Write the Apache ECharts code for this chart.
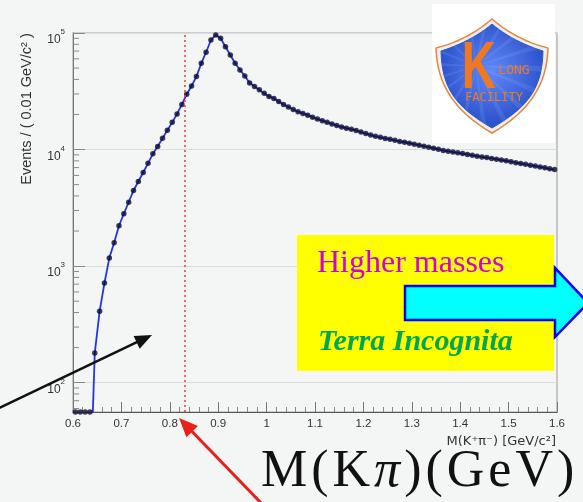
<!DOCTYPE html>
<html><head><meta charset="utf-8">
<script src="https://cdn.jsdelivr.net/npm/echarts@6/dist/echarts.min.js"></script>
<style>html,body{margin:0;padding:0;background:#f4f5f5}#c{width:583px;height:502px}</style>
</head><body><div id="c"></div>
<script>
// ---- data ----
const binCenters = [
 0.605,0.615,0.625,0.635,0.645,0.655,0.665,0.675,0.685,0.695,
 0.705,0.715,0.725,0.735,0.745,0.755,0.765,0.775,0.785,0.795,
 0.805,0.815,0.825,0.835,0.845,0.855,0.865,0.875,0.885,0.895,
 0.905,0.915,0.925,0.935,0.945,0.955,0.965,0.975,0.985,0.995,
 1.005,1.015,1.025,1.035,1.045,1.055,1.065,1.075,1.085,1.095,
 1.105,1.115,1.125,1.135,1.145,1.155,1.165,1.175,1.185,1.195,
 1.205,1.215,1.225,1.235,1.245,1.255,1.265,1.275,1.285,1.295,
 1.305,1.315,1.325,1.335,1.345,1.355,1.365,1.375,1.385,1.395,
 1.405,1.415,1.425,1.435,1.445,1.455,1.465,1.475,1.485,1.495,
 1.505,1.515,1.525,1.535,1.545,1.555,1.565,1.575,1.585,1.595];
const eventCounts = [
 0,0,0,0,180,409,716,1172,1588,2218,
 2812,3530,4454,5318,6353,7620,9190,10620,12530,14620,
 17110,20230,24390,29840,35140,42240,54990,68390,87100,96130,
 90120,76310,64760,54990,48190,42830,37320,34830,32510,30340,
 28580,27480,25880,24380,23220,22080,21130,20420,19720,18960,
 18250,17690,17110,16600,16070,15630,15250,14900,14590,14130,
 13710,13310,13000,12740,12470,12250,11990,11750,11550,11350,
 11120,10910,10690,10470,10260,10040,9820,9660,9520,9370,
 9230,9080,8920,8780,8650,8530,8400,8260,8130,8000,
 7860,7720,7590,7470,7330,7210,7100,6970,6840,6730];
const fitOnset = 0.641;      // where the fitted curve leaves the floor
const massCut = 0.826;       // red dotted line
const xTickLabels = ['0.6','0.7','0.8','0.9','1','1.1','1.2','1.3','1.4','1.5','1.6'];
const yMajorTicks = [100, 1000, 10000, 100000];
const yMinorTicks = [60,70,80,90,200,300,400,500,600,700,800,900,
  2000,3000,4000,5000,6000,7000,8000,9000,20000,30000,40000,50000,60000,70000,80000,90000];
const xMin = 0.6, xMax = 1.6, yMin = 56, yMax = 100000;
const bigLabelChars = ['M','(','K','π',')','(','G','e','V',')'];

// ---- build ----
const points = binCenters.map((m, i) => [m, Math.max(eventCounts[i], yMin)]);
const fitLine = [[fitOnset, yMin]].concat(binCenters.map((m, i) => [m, eventCounts[i]]).filter(p => p[1] > 0));

function arrowShapes(tail, tip, color, width, headLen, headHalf) {
  const dx = tip[0]-tail[0], dy = tip[1]-tail[1];
  const L = Math.hypot(dx, dy), ux = dx/L, uy = dy/L;
  const bx = tip[0]-ux*headLen, by = tip[1]-uy*headLen;
  const px = -uy, py = ux;
  return [
    {type:'line', z:100, shape:{x1:tail[0], y1:tail[1], x2:bx+ux*2, y2:by+uy*2}, style:{stroke:color, lineWidth:width}},
    {type:'polygon', z:100, shape:{points:[tip, [bx+px*headHalf, by+py*headHalf], [bx-px*headHalf, by-py*headHalf]]}, style:{fill:color}}
  ];
}
function bez(p0, p1, p2, p3, n) {
  const out = [];
  for (let k = 0; k <= n; k++) {
    const t = k / n, u = 1 - t;
    out.push([u*u*u*p0[0] + 3*u*u*t*p1[0] + 3*u*t*t*p2[0] + t*t*t*p3[0],
              u*u*u*p0[1] + 3*u*u*t*p1[1] + 3*u*t*t*p2[1] + t*t*t*p3[1]]);
  }
  return out;
}
function shield(top, lx, rx, sh, bot, inset) {
  const cx = top[0];
  const a = [cx, top[1]+inset], l = [lx+inset, sh+inset*0.6], r = [rx-inset, sh+inset*0.6], b = [cx, bot-inset];
  return []
    .concat(bez(a, [cx-14, a[1]+12], [cx-32, l[1]-6], l, 12))
    .concat(bez(l, [l[0]+1, l[1]+36], [cx-38, b[1]-22], b, 16))
    .concat(bez(b, [cx+38, b[1]-22], [r[0]-1, r[1]+36], r, 16))
    .concat(bez(r, [cx+32, r[1]-6], [cx+14, a[1]+12], a, 12));
}
function rays(cx, cy, n, len) {
  const out = [];
  for (let k = 0; k < n; k++) {
    const a0 = (k / n) * Math.PI * 2, a1 = a0 + Math.PI / n * 0.5;
    out.push({type:'polygon', z:102, silent:true,
      shape:{points:[[cx, cy], [cx + len*Math.cos(a0), cy + len*Math.sin(a0)], [cx + len*Math.cos(a1), cy + len*Math.sin(a1)]]},
      style:{fill:'rgba(190,210,255,0.12)'}});
  }
  return out;
}

const chart = echarts.init(document.getElementById('c'), null, {renderer:'canvas'});
const labelFont = 'Liberation Sans';
const shieldOuter = shield([492,19], 436, 548, 48, 133, 0);
const shieldInner = shield([492,19], 436, 548, 48, 133, 5);
const option = {
  backgroundColor: '#f4f5f5',
  animation: false,
  grid: {left:73, right:26, top:33, bottom:90, show:true, borderColor:'#a8a8a8', borderWidth:1.2, backgroundColor:'transparent'},
  xAxis: {
    type:'value', min:xMin, max:xMax, interval:0.1,
    axisLine:{show:true, lineStyle:{color:'#555', width:1}},
    axisTick:{show:true, inside:true, length:10, lineStyle:{color:'#777'}},
    minorTick:{show:true, splitNumber:5, length:5, lineStyle:{color:'#888'}},
    splitLine:{show:false},
    axisLabel:{margin:6, fontSize:11.5, color:'#333', fontFamily:labelFont,
      formatter: v => { const i = Math.round((v - xMin) * 10); return xTickLabels[i] ?? ''; }}
  },
  yAxis: {
    type:'log', logBase:10, min:yMin, max:yMax,
    axisLine:{show:true, lineStyle:{color:'#777', width:1}},
    axisTick:{show:true, inside:true, length:12, lineStyle:{color:'#888'}},
    splitLine:{show:true, lineStyle:{color:'#dcdcdc', width:1}},
    axisLabel:{
      margin:8, padding:[8,0,0,0],
      formatter: v => {
        const lg = Math.log10(v), e = Math.round(lg);
        if (Math.abs(lg - e) > 1e-6 || !yMajorTicks.includes(Math.pow(10, e))) return '';
        return '{b|10}{s|' + e + '}';
      },
      rich:{
        b:{fontSize:12, color:'#333', fontFamily:labelFont, verticalAlign:'bottom'},
        s:{fontSize:8, color:'#333', fontFamily:labelFont, verticalAlign:'top', padding:[0,0,10,0]}
      }
    }
  },
  series: [
    {
      type:'custom', name:'yMinorTicks', silent:true, z:1,
      data: yMinorTicks.map(v => [xMin, v]),
      renderItem: (params, api) => {
        const p = api.coord([api.value(0), api.value(1)]);
        return {type:'line', shape:{x1:p[0], y1:p[1], x2:p[0]+6, y2:p[1]}, style:{stroke:'#888', lineWidth:1}};
      }
    },
    {
      type:'line', name:'fit', data: fitLine, showSymbol:false, symbol:'none', smooth:false,
      lineStyle:{color:'#2236e8', width:1.8}, z:3, silent:true,
      markLine:{silent:true, symbol:'none', label:{show:false}, animation:false,
        lineStyle:{color:'#f04545', type:[2,3], width:1.6},
        data:[{xAxis: massCut}]}
    },
    {
      type:'scatter', name:'data', data: points, symbol:'circle', symbolSize:5.5, clip:false,
      itemStyle:{color:'#0c0c30'}, z:4, silent:true
    }
  ],
  graphic: [
    // Y axis title
    {type:'text', z:100, x:27, y:109, rotation:Math.PI/2,
      style:{text:'Events / ( 0.01 GeV/c² )', align:'center', verticalAlign:'middle', fontSize:14.5, fontFamily:labelFont, fill:'#333'}},
    // X axis title
    {type:'text', z:100, x:556, y:442,
      style:{text:'M(K⁺π⁻) [GeV/c²]', align:'right', verticalAlign:'middle', fontSize:13, fontFamily:'DejaVu Sans', fill:'#333'}},
    // logo
    {type:'rect', z:100, shape:{x:432, y:4, width:123, height:139}, style:{fill:'#ffffff'}},
    {type:'polygon', z:101, shape:{points: shieldOuter},
      style:{fill:'#eeeeee', stroke:'#e8843a', lineWidth:1.5}},
    {type:'polygon', z:102, shape:{points: shieldInner},
      style:{fill:{type:'radial', x:0.5, y:0.45, r:0.65, colorStops:[{offset:0, color:'#5f88f8'}, {offset:1, color:'#1f44c0'}]}, stroke:'#2b56c8', lineWidth:1}}
  ]
    .concat(rays(476, 66, 18, 80).map(r => Object.assign(r, {clipPath:{type:'polygon', shape:{points: shieldInner}}})))
    .concat([
    {type:'text', z:103, x:479, y:70, scaleX:0.72,
      style:{text:'K', x:0, y:0, align:'center', verticalAlign:'middle', fontSize:66, fontWeight:'bold', fontFamily:'Liberation Sans', fill:'#f07820'}},
    {type:'text', z:104, x:514, y:71,
      style:{text:'LONG', align:'center', verticalAlign:'middle', fontSize:13, fontFamily:'DejaVu Sans Mono', fill:'#f57a1a'}},
    {type:'text', z:104, x:494, y:97.5,
      style:{text:'FACILITY', align:'center', verticalAlign:'middle', fontSize:12, fontFamily:'DejaVu Sans Mono', fill:'#f57a1a'}},
    // yellow box
    {type:'rect', z:100, shape:{x:297, y:235, width:257, height:136}, style:{fill:'#ffff00'}},
    {type:'text', z:101, x:317, y:264,
      style:{text:'Higher masses', align:'left', verticalAlign:'middle', fontSize:32, fontFamily:'Liberation Serif', fill:'#d000d8'}},
    {type:'text', z:101, x:318, y:342,
      style:{text:'Terra Incognita', align:'left', verticalAlign:'middle', fontSize:30, fontStyle:'italic', fontWeight:'bold', fontFamily:'Liberation Serif', fill:'#00a651'}},
    {type:'polygon', z:102, shape:{points:[[405,286],[555,286],[555,268],[588,303],[555,337],[555,320],[405,320]]},
      style:{fill:'#00ffff', stroke:'#0000ff', lineWidth:2.5}},
    // big label
    {type:'text', z:100, x:259, y:472,
      style:{text: bigLabelChars.map(c => (c === 'π' ? '{p|' : '{n|') + c + '}').join(''), align:'left', verticalAlign:'middle',
        rich:{n:{fontSize:52, fontFamily:'Liberation Serif', fill:'#111', padding:[0,2,0,2]},
              p:{fontSize:52, fontStyle:'italic', fontFamily:'Liberation Serif', fill:'#111', padding:[0,2,0,2]}}}}
    ])
    .concat(arrowShapes([-5, 410], [152, 335], '#111111', 2.5, 17, 7))
    .concat(arrowShapes([264, 506], [179, 418], '#e8201c', 3, 19, 8))
};
chart.setOption(option);
</script>
</body></html>
